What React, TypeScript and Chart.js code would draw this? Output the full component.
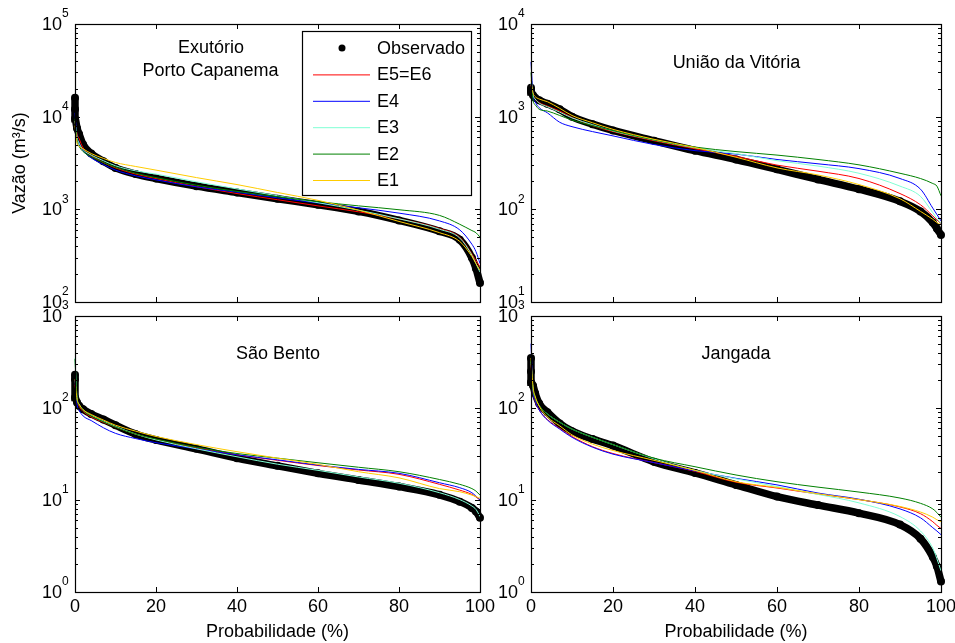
import React, { useEffect, useRef } from 'react';
import { Chart, registerables } from 'chart.js';

Chart.register(...registerables);

// ---------------- DATA ----------------
const PROB = [0, 0.5, 1, 2, 4, 7, 10, 15, 20, 30, 40, 50, 60, 70, 80, 90, 95, 98, 99, 100];
const PROB_OBS = [0, 0, 0, 0.5, 1, 2, 4, 7, 10, 15, 20, 30, 40, 50, 60, 70, 80, 90, 95, 98, 99, 100];
const X_TICKS = [0, 20, 40, 60, 80, 100];

const SERIES_LABELS = ['Observado', 'E5=E6', 'E4', 'E3', 'E2', 'E1'];
const SERIES_COLORS = ['#000000', '#ff0000', '#0000ff', '#7fffd4', '#008000', '#ffcc00'];

// Exutório – Porto Capanema
const TL_OBS = [16000, 12000, 9500, 7500, 6500, 5000, 4000, 3300, 2800, 2400, 2150, 1780, 1520, 1300, 1120, 950, 760, 580, 470, 300, 230, 160];
const TL_E56 = [9000, 6500, 5800, 4600, 3800, 3200, 2800, 2400, 2150, 1760, 1480, 1270, 1090, 940, 790, 620, 500, 330, 280, 240];
const TL_E4 = [11000, 6000, 5200, 4300, 3600, 3050, 2650, 2300, 2080, 1750, 1530, 1330, 1170, 1040, 910, 750, 600, 420, 350, 260];
const TL_E3 = [9000, 6000, 5200, 4400, 3850, 3350, 2950, 2600, 2400, 1980, 1660, 1400, 1180, 980, 790, 610, 490, 320, 260, 210];
const TL_E2 = [9500, 5500, 4800, 4200, 3700, 3200, 2850, 2450, 2200, 1820, 1560, 1370, 1210, 1090, 990, 860, 690, 590, 560, 500];
const TL_E1 = [8000, 5200, 4800, 4500, 4000, 3550, 3200, 2900, 2650, 2200, 1850, 1520, 1250, 980, 740, 560, 450, 310, 260, 220];

// União da Vitória
const TR_OBS = [2050, 1950, 1850, 1700, 1600, 1500, 1380, 1200, 1000, 830, 710, 550, 430, 345, 270, 210, 165, 122, 95, 72, 62, 53];
const TR_E56 = [2200, 1700, 1550, 1420, 1300, 1150, 980, 800, 690, 550, 450, 372, 300, 258, 215, 148, 112, 85, 77, 70];
const TR_E4 = [3900, 1700, 1450, 1250, 1100, 870, 780, 690, 620, 500, 430, 395, 345, 310, 275, 215, 165, 103, 88, 75];
const TR_E3 = [2300, 1700, 1550, 1400, 1280, 1120, 970, 820, 700, 560, 460, 400, 335, 293, 245, 178, 138, 92, 80, 70];
const TR_E2 = [3000, 1500, 1350, 1200, 1150, 1030, 920, 800, 706, 560, 470, 420, 385, 345, 302, 245, 215, 190, 178, 140];
const TR_E1 = [2500, 1800, 1650, 1550, 1450, 1230, 1030, 860, 730, 570, 465, 365, 280, 235, 185, 130, 95, 78, 72, 68];

// São Bento
const BL_OBS = [230, 205, 130, 115, 106, 97, 86, 75, 65, 52, 45, 36, 28.5, 23.5, 19.5, 16.5, 14, 11.4, 9.6, 8.2, 7.5, 6.4];
const BL_E56 = [180, 120, 105, 92, 80, 70, 62, 52, 45.5, 37, 31, 27, 23.7, 21.2, 19, 14.8, 12.8, 11.5, 10.8, 10];
const BL_E4 = [200, 110, 95, 82, 73, 61, 53, 46.5, 42, 36, 31, 27.3, 24, 21.5, 19.5, 15.4, 13.6, 12, 11, 10];
const BL_E3 = [350, 130, 110, 95, 83, 72, 63, 52, 45, 36, 29.5, 24.5, 21, 17.8, 15.2, 12, 10.1, 8.6, 7.9, 6.6];
const BL_E2 = [340, 125, 108, 94, 82, 71, 62, 52, 46, 37.5, 32, 28.5, 25.4, 22.7, 20.3, 16.7, 14.8, 13.3, 12.5, 11.3];
const BL_E1 = [205, 125, 110, 96, 85, 74, 65, 56, 49, 40, 33.5, 28.5, 24.4, 20.3, 17.4, 13.3, 12.3, 11.3, 10.9, 10.4];

// Jangada
const BR_OBS = [350, 250, 190, 175, 145, 112, 90, 68, 56, 46, 39, 26, 19.7, 14.6, 10.9, 8.8, 7.2, 5.4, 3.8, 2.4, 1.9, 1.3];
const BR_E56 = [300, 150, 120, 95, 75, 60, 49, 38, 32, 25.5, 20.5, 15.6, 13.5, 11.6, 10.1, 8.4, 7.1, 5.8, 5.3, 4.9];
const BR_E4 = [500, 150, 120, 95, 74, 59, 48, 37.5, 31.5, 25.5, 20.7, 17.2, 14.6, 11.9, 10.2, 8.0, 6.4, 5.0, 4.6, 4.2];
const BR_E3 = [320, 160, 130, 106, 86, 70, 59, 48, 40, 28, 21, 17, 14, 11.5, 9.3, 6.6, 4.6, 3.0, 2.3, 1.7];
const BR_E2 = [330, 160, 130, 106, 86, 70, 59, 48, 40, 28.5, 23, 18.7, 15.8, 13.8, 12.2, 10.5, 9.2, 8.0, 7.3, 6.5];
const BR_E1 = [350, 170, 135, 105, 80, 64, 51, 40.5, 34.5, 27, 21, 15.8, 13.7, 11.7, 10.1, 8.5, 7.4, 6.5, 6.1, 5.8];

// ---------------- LAYOUT ----------------
const W = 955;
const H = 643;
const FONT = "'Liberation Sans', Arial, Helvetica, sans-serif";

type Panel = {
  area: { left: number; top: number; right: number; bottom: number };
  yMinExp: number;
  yMaxExp: number;
  xLabels: boolean;
  yTitle: boolean;
  legend: boolean;
  titles: [string, number, number][];
  obs: number[];
  models: number[][];
};

const PANELS: Panel[] = [
  {
    area: { left: 75, top: 24, right: 480, bottom: 302 },
    yMinExp: 2, yMaxExp: 5, xLabels: false, yTitle: true, legend: true,
    titles: [['Exutório', 211, 48], ['Porto Capanema', 210.5, 71]],
    obs: TL_OBS, models: [TL_E56, TL_E4, TL_E3, TL_E2, TL_E1],
  },
  {
    area: { left: 531, top: 24, right: 941, bottom: 302 },
    yMinExp: 1, yMaxExp: 4, xLabels: false, yTitle: false, legend: false,
    titles: [['União da Vitória', 736.5, 63]],
    obs: TR_OBS, models: [TR_E56, TR_E4, TR_E3, TR_E2, TR_E1],
  },
  {
    area: { left: 75, top: 316, right: 480, bottom: 592 },
    yMinExp: 0, yMaxExp: 3, xLabels: true, yTitle: false, legend: false,
    titles: [['São Bento', 278, 354]],
    obs: BL_OBS, models: [BL_E56, BL_E4, BL_E3, BL_E2, BL_E1],
  },
  {
    area: { left: 531, top: 316, right: 941, bottom: 592 },
    yMinExp: 0, yMaxExp: 3, xLabels: true, yTitle: false, legend: false,
    titles: [['Jangada', 736, 354]],
    obs: BR_OBS, models: [BR_E56, BR_E4, BR_E3, BR_E2, BR_E1],
  },
];

function makeFramePlugin(panel: Panel) {
  return {
    id: 'frame',
    afterDraw(chart: any) {
      const ctx: CanvasRenderingContext2D = chart.ctx;
      const { left, right, top, bottom } = chart.chartArea;
      const xs = chart.scales.x;
      const ys = chart.scales.y;
      ctx.save();
      ctx.strokeStyle = '#000';
      ctx.lineWidth = 1;
      ctx.beginPath();
      for (const t of X_TICKS) {
        const px = Math.round(xs.getPixelForValue(t)) + 0.5;
        ctx.moveTo(px, bottom);
        ctx.lineTo(px, bottom - 5);
        ctx.moveTo(px, top);
        ctx.lineTo(px, top + 5);
      }
      for (let e = panel.yMinExp; e <= panel.yMaxExp; e++) {
        for (let m = 1; m <= 9; m++) {
          if (e === panel.yMaxExp && m > 1) break;
          const py = Math.round(ys.getPixelForValue(m * Math.pow(10, e))) + 0.5;
          const len = m === 1 ? 5 : 3;
          ctx.moveTo(left, py);
          ctx.lineTo(left + len, py);
          ctx.moveTo(right, py);
          ctx.lineTo(right - len, py);
        }
      }
      ctx.stroke();
      ctx.lineWidth = 1.2;
      ctx.strokeRect(left + 0.5, top + 0.5, right - left, bottom - top);

      ctx.fillStyle = '#000';
      // y tick labels
      for (let e = panel.yMinExp; e <= panel.yMaxExp; e++) {
        const py = ys.getPixelForValue(Math.pow(10, e));
        ctx.font = `18px ${FONT}`;
        ctx.textAlign = 'right';
        ctx.textBaseline = 'middle';
        ctx.fillText('10', left - 13, py + 1);
        ctx.font = `12px ${FONT}`;
        ctx.textAlign = 'left';
        ctx.fillText(String(e), left - 13, py - 10);
      }
      // x tick labels
      if (panel.xLabels) {
        ctx.font = `18px ${FONT}`;
        ctx.textAlign = 'center';
        ctx.textBaseline = 'middle';
        for (const t of X_TICKS) {
          ctx.fillText(String(t), xs.getPixelForValue(t), bottom + 15);
        }
        ctx.fillText('Probabilidade (%)', (left + right) / 2, bottom + 40);
      }
      if (panel.yTitle) {
        ctx.save();
        ctx.translate(20, (top + bottom) / 2);
        ctx.rotate(-Math.PI / 2);
        ctx.font = `18px ${FONT}`;
        ctx.textAlign = 'center';
        ctx.textBaseline = 'middle';
        ctx.fillText('Vazão (m³/s)', 0, 0);
        ctx.restore();
      }
      // panel titles
      ctx.font = `18px ${FONT}`;
      ctx.textAlign = 'center';
      ctx.textBaseline = 'middle';
      for (const [txt, cx, cy] of panel.titles) ctx.fillText(txt, cx, cy);

      // legend
      if (panel.legend) {
        const bx = 302.5, by = 31.5, bw = 169, bh = 164;
        ctx.fillStyle = '#fff';
        ctx.fillRect(bx, by, bw, bh);
        ctx.strokeStyle = '#000';
        ctx.lineWidth = 1.2;
        ctx.strokeRect(bx, by, bw, bh);
        const ds = chart.data.datasets;
        ds.forEach((d: any, i: number) => {
          const cy = 48 + i * 26.4;
          if (i === 0) {
            ctx.fillStyle = d.borderColor;
            ctx.beginPath();
            ctx.arc(342, cy, 3.5, 0, Math.PI * 2);
            ctx.fill();
          } else {
            ctx.strokeStyle = d.borderColor;
            ctx.lineWidth = 1;
            ctx.beginPath();
            ctx.moveTo(313, cy + 0.5);
            ctx.lineTo(370, cy + 0.5);
            ctx.stroke();
          }
          ctx.fillStyle = '#000';
          ctx.font = `18px ${FONT}`;
          ctx.textAlign = 'left';
          ctx.textBaseline = 'middle';
          ctx.fillText(d.label, 377, cy + 1);
        });
      }
      ctx.restore();
    },
  };
}

function PanelChart({ panel }: { panel: Panel }) {
  const ref = useRef<HTMLCanvasElement | null>(null);
  useEffect(() => {
    if (!ref.current) return;
    const datasets: any[] = [];
    datasets.push({
      label: SERIES_LABELS[0],
      data: PROB_OBS.map((p, i) => ({ x: p, y: panel.obs[i] })),
      borderColor: SERIES_COLORS[0],
      backgroundColor: SERIES_COLORS[0],
      borderWidth: 7.5,
      pointRadius: 4,
      pointBorderWidth: 0,
      pointBackgroundColor: SERIES_COLORS[0],
      cubicInterpolationMode: 'monotone',
      order: 10,
      clip: 6,
    });
    panel.models.forEach((vals, k) => {
      datasets.push({
        label: SERIES_LABELS[k + 1],
        data: PROB.map((p, i) => ({ x: p, y: vals[i] })),
        borderColor: SERIES_COLORS[k + 1],
        backgroundColor: SERIES_COLORS[k + 1],
        borderWidth: 1,
        pointRadius: 0,
        cubicInterpolationMode: 'monotone',
        order: 5 - k,
        clip: 3,
      });
    });
    const a = panel.area;
    const chart = new Chart(ref.current, {
      type: 'line',
      data: { datasets },
      options: {
        animation: false,
        responsive: false,
        events: [],
        layout: { padding: { left: a.left, top: a.top, right: W - a.right, bottom: H - a.bottom } },
        scales: {
          x: { type: 'linear', min: 0, max: 100, display: false },
          y: { type: 'logarithmic', min: Math.pow(10, panel.yMinExp), max: Math.pow(10, panel.yMaxExp), display: false },
        },
        plugins: { legend: { display: false }, tooltip: { enabled: false } },
      },
      plugins: [makeFramePlugin(panel)],
    } as any);
    return () => chart.destroy();
  }, [panel]);
  return (
    <canvas
      ref={ref}
      width={W}
      height={H}
      style={{ position: 'absolute', left: 0, top: 0, width: W, height: H }}
    />
  );
}

export default function App() {
  return (
    <div style={{ position: 'absolute', left: 0, top: 0, width: W, height: H, background: '#fff', overflow: 'hidden' }}>
      {PANELS.map((p, i) => (
        <PanelChart key={i} panel={p} />
      ))}
    </div>
  );
}
